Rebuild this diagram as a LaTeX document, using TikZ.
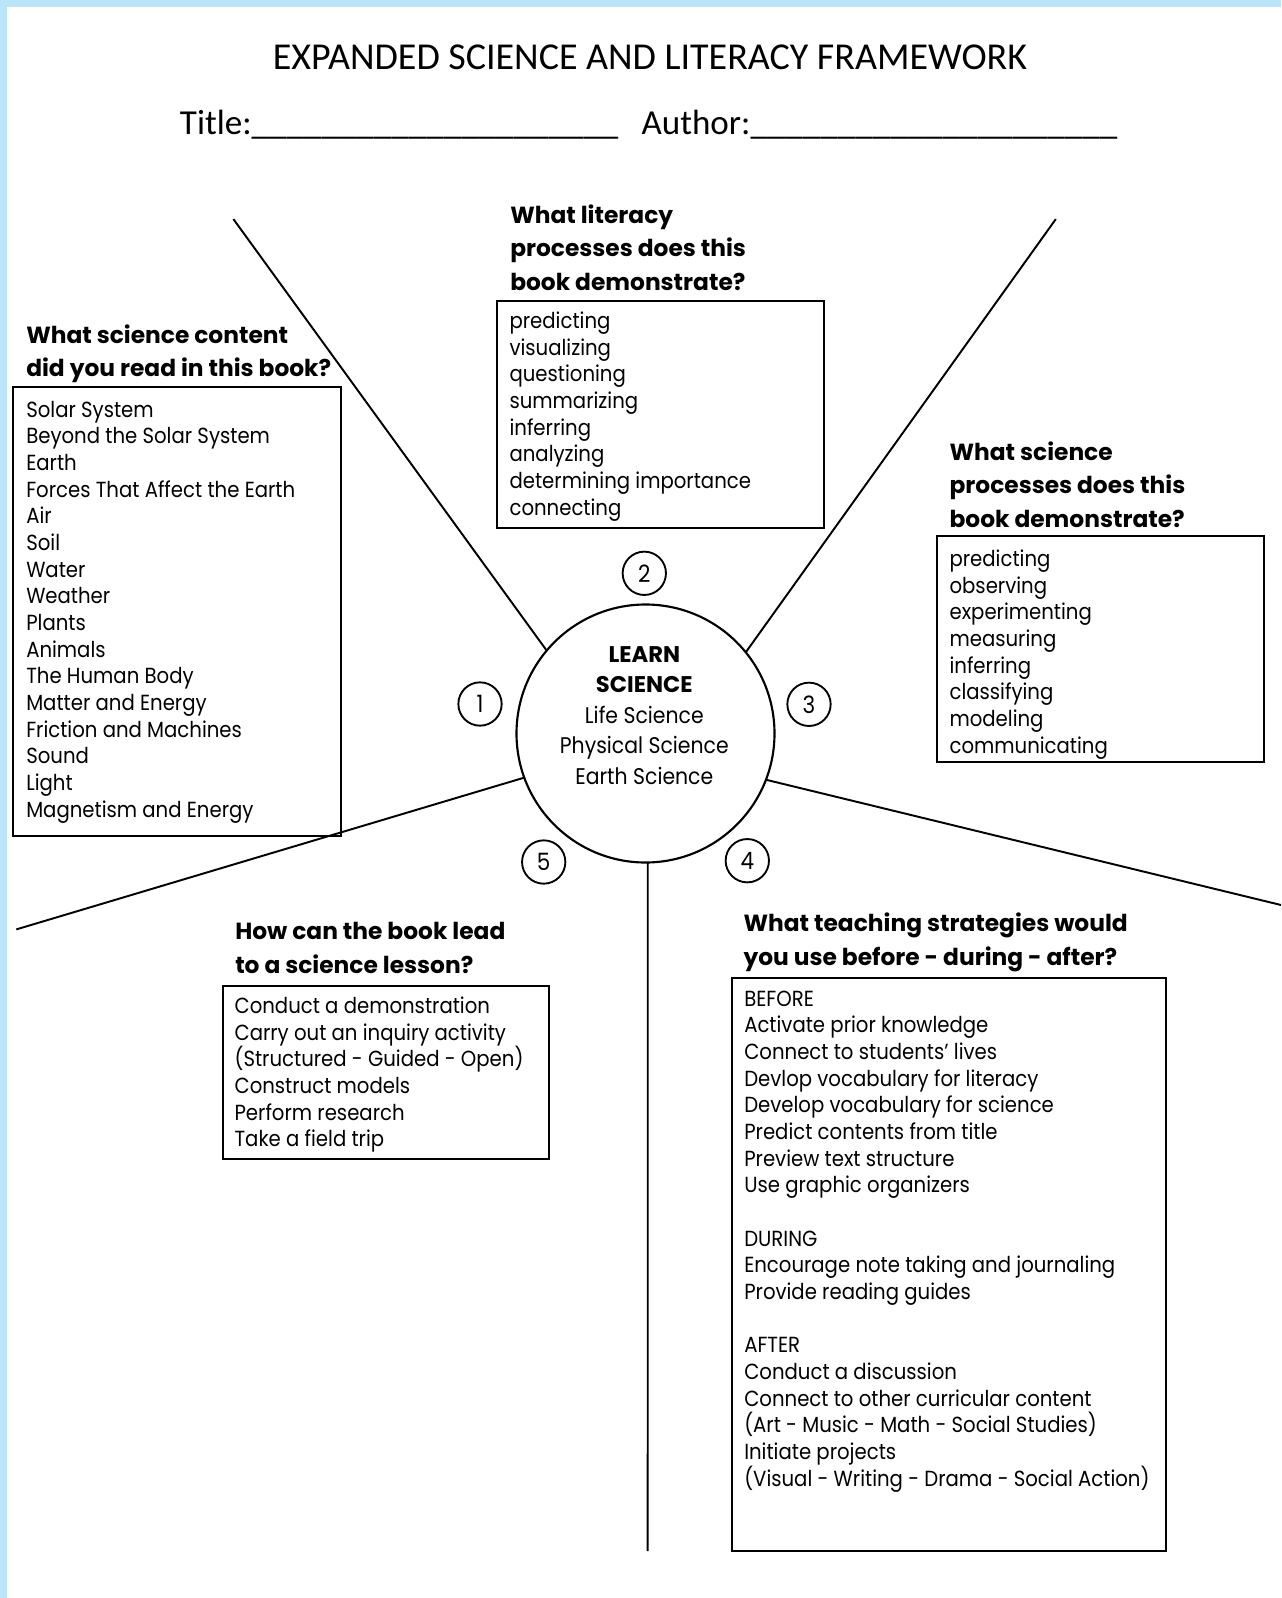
\documentclass[tikz,border=0pt]{standalone}
\usepackage{fontspec}
\setmainfont{Poppins}
\newfontfamily\bodyf[FakeStretch=0.90]{Poppins}
\newfontfamily\headf{Poppins}
\newfontfamily\titlef{Carlito}
\definecolor{frameblue}{RGB}{186,228,248}
\begin{document}
\begin{tikzpicture}[x=0.75pt,y=-0.75pt,
  boxst/.style={draw=black, line width=1.7pt},
  spokest/.style={draw=black, line width=1.45pt},
  listst/.style={font=\bodyf\fontsize{16.4}{20}\selectfont, align=left, inner sep=0pt, anchor=base west},
  headst/.style={font=\headf\bfseries\fontsize{17.5}{25.1}\selectfont, align=left, inner sep=0pt, anchor=base west},
  numst/.style={circle, draw=black, line width=1.4pt, minimum size=32.5pt, inner sep=0pt, font=\bodyf\fontsize{17.9}{20}\selectfont}]
\useasboundingbox (0,0) rectangle (1281,1598);
\fill[frameblue] (0,0) rectangle (1281,1598);
\fill[white] (7,7) rectangle (1281,1598);
% title
\node[font=\titlef\fontsize{28.5}{30}\selectfont, inner sep=0pt, anchor=base] (title) at (650,70) {EXPANDED SCIENCE AND LITERACY FRAMEWORK};
\node[font=\titlef\fontsize{26.3}{30}\selectfont, inner sep=0pt, anchor=base west] (tline) at (179.7,135) {Title:\_\_\_\_\_\_\_\_\_\_\_\_\_\_\_\_\_\_\_\_\_};
\node[font=\titlef\fontsize{26.3}{30}\selectfont, inner sep=0pt, anchor=base west] (aline) at (641.3,135) {Author:\_\_\_\_\_\_\_\_\_\_\_\_\_\_\_\_\_\_\_\_\_};
% centre circle
\node[circle, draw=black, line width=1.6pt, minimum size=193.5pt, inner sep=0pt, outer sep=0pt] (c) at (645.5,733.5) {};
\node[font=\bodyf\fontsize{17}{22.9}\selectfont, align=center, inner sep=0pt, anchor=base] (ctext) at (644.3,784.3) {{\headf\bfseries LEARN}\\{\headf\bfseries SCIENCE}\\Life Science\\Physical Science\\Earth Science};
% spokes
\coordinate (ul) at (233.4,219.1);
\coordinate (ur) at (1055.8,219.1);
\coordinate (ll) at (16.3,929.4);
\coordinate (lr) at (1281,905);
\coordinate (bt) at (647.7,1551);
\draw[spokest] (c.140.8) -- (ul);
\draw[spokest] (c.39) -- (ur);
\draw[spokest] (c.200.5) -- (ll);
\draw[spokest] (c.339.7) -- (lr);
\draw[spokest] (c.271) -- (bt);
% numbers
\node[numst] (n1) at (480,704) {1};
\node[numst] (n2) at (644.3,573.3) {2};
\node[numst] (n3) at (809,704.3) {3};
\node[numst] (n4) at (747.3,860.7) {4};
\node[numst] (n5) at (543.7,862) {5};
% boxes
\draw[boxst] (13.3,387.3) rectangle (340.7,835.7);
\draw[boxst] (497.3,301) rectangle (824,527.7);
\draw[boxst] (937.3,535.7) rectangle (1264,761.7);
\draw[boxst] (222.7,986) rectangle (549.3,1159);
\draw[boxst] (731.7,977.7) rectangle (1165.7,1550.7);
% headings (anchored at the baseline of their last line)
\node[headst] (h1) at (26,376.5) {What science content\\did you read in this book?};
\node[headst] (h2) at (510,290) {What literacy\\processes does this\\book demonstrate?};
\node[headst] (h3) at (949.3,527.3) {What science\\processes does this\\book demonstrate?};
\node[headst] (h4) at (235,973.3) {How can the book lead\\to a science lesson?};
\node[headst] (h5) at (743.3,965) {What teaching strategies would\\you use before - during - after?};
% lists (anchored at the baseline of their last line)
\node[listst] (l1) at (26,817.3) {Solar System\\Beyond the Solar System\\Earth\\Forces That Affect the Earth\\Air\\Soil\\Water\\Weather\\Plants\\Animals\\The Human Body\\Matter and Energy\\Friction and Machines\\Sound\\Light\\Magnetism and Energy};
\node[listst] (l2) at (509.3,515) {predicting\\visualizing\\questioning\\summarizing\\inferring\\analyzing\\determining importance\\connecting};
\node[listst] (l3) at (949.3,753.3) {predicting\\observing\\experimenting\\measuring\\inferring\\classifying\\modeling\\communicating};
\node[listst] (l4) at (234.3,1146.7) {Conduct a demonstration\\Carry out an inquiry activity\\(Structured - Guided - Open)\\Construct models\\Perform research\\Take a field trip};
\node[listst] (l5) at (744,1486) {BEFORE\\Activate prior knowledge\\Connect to students’ lives\\Devlop vocabulary for literacy\\Develop vocabulary for science\\Predict contents from title\\Preview text structure\\Use graphic organizers\\[20pt]DURING\\Encourage note taking and journaling\\Provide reading guides\\[20pt]AFTER\\Conduct a discussion\\Connect to other curricular content\\(Art - Music - Math - Social Studies)\\Initiate projects\\(Visual - Writing - Drama - Social Action)};
\end{tikzpicture}
\end{document}
